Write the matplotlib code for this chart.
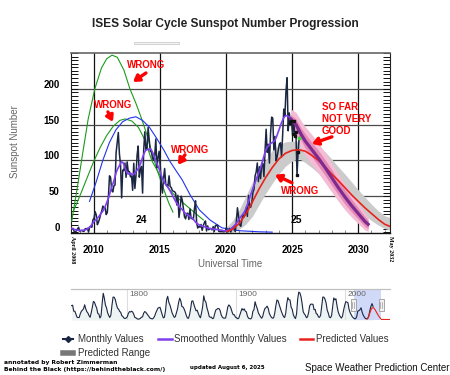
import numpy as np
import matplotlib
matplotlib.use('Agg')
import matplotlib.pyplot as plt
from matplotlib.ticker import MultipleLocator
from matplotlib.transforms import ScaledTranslation
from matplotlib.patches import Rectangle
from matplotlib.lines import Line2D

plt.rcParams['font.family'] = ['Liberation Sans', 'DejaVu Sans']

# ---------------- data ----------------
# Monthly sunspot numbers, Apr 2008 .. Jul 2025
m2008 = [4.6, 4.9, 5.2, 0.8, 0.5, 1.8, 4.5, 6.8, 1.3]
m2009 = [2.2, 2.3, 1.2, 1.3, 4.8, 4.8, 5.3, 0.0, 7.2, 8.0, 6.8, 17.2]
m2010 = [19.6, 28.5, 24.0, 10.4, 13.9, 18.8, 25.2, 29.6, 36.4, 33.6, 34.4, 24.5]
m2011 = [27.3, 48.3, 78.6, 76.1, 58.2, 56.1, 64.5, 65.8, 111.1, 125.7, 139.1, 109.3]
m2012 = [94.4, 47.8, 86.6, 85.9, 96.5, 76.5, 98.1, 84.3, 84.6, 77.2, 78.4, 58.3]
m2013 = [96.1, 60.9, 78.3, 107.3, 120.2, 76.7, 86.2, 91.8, 54.5, 114.4, 140.0, 114.9]
m2014 = [117.0, 146.1, 128.7, 112.5, 112.5, 102.9, 100.2, 106.9, 130.0, 90.0, 103.6, 112.9]
m2015 = [93.0, 66.7, 54.5, 75.3, 88.8, 66.5, 65.8, 64.4, 78.6, 63.6, 62.2, 58.0]
m2016 = [57.0, 56.4, 54.1, 37.9, 51.5, 20.5, 32.4, 50.2, 44.6, 33.4, 21.4, 18.5]
m2017 = [26.1, 26.4, 17.7, 32.3, 18.9, 19.2, 17.8, 32.6, 43.7, 13.2, 5.7, 8.2]
m2018 = [6.8, 10.7, 2.5, 8.9, 13.1, 15.6, 1.6, 8.7, 3.3, 4.9, 4.9, 3.1]
m2019 = [7.7, 0.8, 9.4, 9.1, 9.9, 1.2, 0.9, 0.5, 1.1, 0.4, 0.5, 1.5]
m2020 = [6.2, 0.2, 1.5, 5.2, 0.2, 5.8, 6.1, 7.5, 0.6, 14.4, 34.0, 21.8]
m2021 = [10.4, 8.2, 17.2, 24.5, 21.2, 25.0, 34.3, 22.0, 51.3, 37.4, 34.8, 41.1]
m2022 = [55.3, 59.9, 78.5, 84.1, 96.5, 70.5, 91.4, 74.6, 96.0, 95.5, 77.6, 113.1]
m2023 = [143.6, 111.3, 122.6, 96.4, 137.4, 160.5, 159.1, 114.8, 133.6, 99.4, 105.4, 114.2]
m2024 = [123.0, 124.7, 104.9, 136.5, 171.7, 162.6, 196.6, 215.5, 141.4, 166.4, 152.5, 154.5]
m2025 = [137.0, 154.6, 134.2, 140.4, 79.3, 112.4, 132.0]
monthly = np.array(m2008 + m2009 + m2010 + m2011 + m2012 + m2013 + m2014 + m2015 +
                   m2016 + m2017 + m2018 + m2019 + m2020 + m2021 + m2022 + m2023 +
                   m2024 + m2025)

# Smoothed monthly values, Apr 2008 .. Dec 2024
s2008 = [5.6, 5.0, 4.4, 3.9, 3.5, 3.0, 2.6, 2.3, 2.2]
s2009 = [2.3, 2.5, 2.7, 2.9, 3.2, 3.7, 4.6, 5.8, 7.0, 8.6, 10.6, 12.8]
s2010 = [14.9, 16.4, 17.9, 19.5, 21.2, 23.2, 25.5, 27.5, 29.4, 32.0, 35.4, 39.3]
s2011 = [43.2, 47.4, 52.5, 58.0, 62.9, 67.1, 71.6, 77.5, 83.0, 87.0, 90.0, 93.0]
s2012 = [96.0, 98.0, 97.5, 94.5, 90.0, 86.0, 82.5, 81.0, 81.5, 82.5, 81.0, 80.0]
s2013 = [81.0, 82.5, 84.5, 86.5, 88.5, 91.5, 95.0, 99.5, 104.5, 108.5, 112.0, 114.5]
s2014 = [115.0, 115.5, 116.0, 116.4, 114.5, 111.5, 108.0, 104.0, 99.5, 95.5, 92.0, 88.0]
s2015 = [83.5, 79.0, 75.5, 72.0, 69.0, 66.5, 64.5, 62.5, 60.0, 57.5, 54.5, 51.5]
s2016 = [48.5, 45.5, 43.0, 40.5, 38.0, 36.0, 34.5, 33.0, 31.5, 29.5, 27.5, 26.0]
s2017 = [25.0, 24.0, 23.0, 22.0, 21.0, 19.5, 18.0, 16.0, 14.0, 12.5, 11.5, 10.5]
s2018 = [9.5, 9.0, 8.5, 8.0, 7.5, 7.0, 6.5, 6.0, 5.5, 5.0, 4.8, 4.6]
s2019 = [4.4, 4.2, 4.0, 3.8, 3.6, 3.4, 3.2, 2.9, 2.5, 2.0, 1.8, 1.8]
s2020 = [2.0, 2.3, 2.6, 3.2, 4.5, 6.0, 7.5, 9.0, 10.5, 12.0, 14.5, 17.0]
s2021 = [19.5, 21.5, 23.5, 25.5, 27.5, 30.5, 34.5, 38.5, 43.0, 47.5, 52.0, 56.5]
s2022 = [61.0, 65.5, 69.5, 73.5, 77.5, 81.5, 85.5, 90.0, 95.0, 100.5, 106.0, 111.5]
s2023 = [115.5, 118.5, 120.5, 122.0, 123.5, 124.5, 125.5, 126.5, 128.5, 131.5, 135.5, 140.0]
s2024 = [144.0, 149.0, 153.0, 156.5, 159.5, 161.5, 162.5, 162.5, 161.5, 160.5, 159.5, 158.5]
smoothed = np.array(s2008 + s2009 + s2010 + s2011 + s2012 + s2013 + s2014 + s2015 +
                    s2016 + s2017 + s2018 + s2019 + s2020 + s2021 + s2022 + s2023 + s2024)

# Old cycle-24 predictions (green: 2007 panel, blue: 2009 panel)
gA_years = [2008.35, 2008.8, 2009.2, 2009.6, 2010.1, 2010.6, 2011.0, 2011.4, 2011.8, 2012.3,
            2012.75, 2013.2, 2013.6, 2014.0, 2014.4, 2014.8, 2015.3, 2015.7, 2016.0]
gA_vals = [15, 65, 112, 158, 200, 229, 242, 247, 244, 226, 200, 180, 160, 138, 112, 87, 60, 40, 28]
gB_years = [2008.5, 2009.0, 2009.5, 2010.0, 2010.5, 2011.0, 2011.5, 2012.0, 2012.4, 2012.9,
            2013.4, 2013.9, 2014.4, 2015.0, 2015.5, 2016.0, 2016.7, 2017.4, 2018.3]
gB_vals = [30, 52, 75, 98, 118, 135, 148, 156, 158, 155, 146, 128, 100, 80, 65, 54, 42, 31, 17]
blue_years = [2009.7, 2010.2, 2010.7, 2011.2, 2011.7, 2012.2, 2012.7, 2013.2, 2013.7, 2014.2,
              2014.7, 2015.3, 2015.8, 2016.3, 2016.7, 2017.3, 2018.0, 2018.8, 2019.7, 2021.0,
              2022.5, 2023.5]
blue_vals = [43, 70, 100, 125, 143, 154, 159, 161, 156, 147, 133, 115, 98, 84, 73, 52, 31, 17,
             6, 2, 0.5, 0]

# Cycle-25 panel prediction and range
red_years = [2020.1, 2020.5, 2021.0, 2021.5, 2022.0, 2022.5, 2023.0, 2023.5, 2024.0, 2024.5,
             2025.0, 2025.5, 2026.0, 2026.5, 2027.0, 2027.5, 2028.0, 2028.5, 2029.0, 2029.5,
             2030.0, 2030.5, 2031.0, 2031.5, 2032.0, 2032.4]
red_vals = [1, 4, 12, 25, 42, 60, 76, 90, 102, 110, 114, 115, 113, 107, 100, 91, 81, 72, 62, 52,
            43, 34, 26, 18, 11, 8]
rng_years = [2020.0, 2020.5, 2021.0, 2021.5, 2022.0, 2022.5, 2023.0, 2023.5, 2024.0, 2024.5,
             2025.0, 2025.5, 2026.0, 2026.5, 2027.0, 2027.5, 2028.0, 2028.5, 2029.0, 2029.5,
             2030.0, 2030.5, 2031.0, 2031.5, 2032.0, 2032.4]
rng_upper = [6, 16, 31, 50, 70, 87, 101, 114, 122, 126, 127, 127, 127, 125, 119, 112, 102, 91,
             81, 70, 59, 49, 39, 30, 23, 20]
rng_lower = [0, 0, 4, 11, 22, 38, 54, 68, 81, 92, 99, 103, 97, 90, 82, 73, 65, 56, 47, 39, 31,
             23, 16, 10, 5, 3]

# New experimental prediction (purple with pink ranges)
exp_years = [2024.9, 2025.3, 2025.7, 2026.0, 2026.5, 2027.0, 2027.5, 2028.0, 2028.5, 2029.0,
             2029.5, 2030.0, 2030.5, 2030.75]
exp_vals = np.array([158, 150, 136, 127, 115, 103, 90, 76, 62, 49, 37, 26, 15, 11])
exp_inner = np.array([6, 8, 9, 10, 10, 11, 11, 11, 10, 10, 9, 8, 7, 6])
exp_outer = np.array([14, 17, 19, 20, 21, 21, 21, 20, 19, 18, 16, 14, 12, 10])

# Navigator: yearly sunspot numbers 1749 .. 2025
nav_start = 1749
nav_vals = [134.7, 139.0, 79.5, 79.7, 51.2, 20.3, 16.0, 17.0, 54.0, 79.3, 90.0, 104.8, 143.2,
            102.0, 75.2, 60.7, 34.8, 19.0, 63.0, 116.3, 176.8, 168.0, 136.0, 110.8, 58.0, 51.0,
            11.7, 33.0, 154.2, 257.3, 209.8, 141.3, 113.5, 64.2, 38.0, 17.0, 40.2, 138.2, 220.0,
            218.2, 196.8, 149.8, 111.0, 100.0, 78.2, 68.3, 35.5, 26.7, 10.7, 6.8, 11.3, 24.2,
            56.7, 75.0, 71.8, 79.2, 70.3, 46.8, 16.8, 13.5, 4.2, 0.0, 2.3, 8.3, 20.3, 23.2, 59.0,
            76.3, 68.3, 52.9, 38.5, 24.2, 9.2, 6.3, 2.2, 11.4, 28.2, 59.9, 83.0, 108.5, 115.2,
            117.4, 80.8, 44.3, 13.4, 19.5, 85.8, 192.7, 227.3, 168.7, 143.0, 105.5, 63.3, 40.3,
            18.1, 25.1, 65.8, 102.7, 166.3, 208.3, 182.5, 126.3, 122.0, 102.7, 74.1, 39.0, 12.7,
            8.2, 43.4, 104.4, 178.3, 182.2, 146.6, 112.1, 83.5, 89.2, 57.8, 30.7, 13.9, 62.8,
            123.6, 232.0, 185.3, 169.2, 110.1, 74.5, 28.3, 18.9, 20.7, 5.7, 10.0, 53.7, 90.5,
            99.0, 106.1, 105.8, 86.3, 42.4, 21.8, 11.2, 10.4, 11.8, 59.5, 121.7, 142.0, 130.0,
            106.6, 69.4, 43.8, 44.4, 20.2, 15.7, 4.6, 8.5, 40.8, 70.1, 105.5, 90.1, 102.8, 80.9,
            73.2, 30.9, 9.5, 6.0, 2.4, 16.1, 79.0, 95.0, 173.6, 134.6, 105.7, 62.7, 43.5, 23.7,
            9.7, 27.9, 74.0, 106.5, 114.7, 129.7, 108.2, 59.4, 35.1, 18.6, 9.2, 14.6, 60.2, 132.8,
            190.6, 182.6, 148.0, 113.0, 79.2, 50.8, 27.1, 16.1, 55.3, 154.3, 214.7, 193.0, 190.7,
            118.9, 98.3, 45.0, 20.1, 6.6, 54.2, 200.7, 269.3, 261.7, 225.1, 159.0, 76.4, 53.4,
            39.9, 15.0, 22.0, 66.8, 132.9, 150.2, 149.4, 148.0, 94.4, 97.6, 54.1, 49.2, 22.5,
            18.4, 39.3, 131.0, 220.1, 218.9, 198.9, 162.4, 91.0, 60.5, 20.6, 14.8, 33.9, 123.0,
            211.1, 191.8, 203.3, 133.0, 76.1, 44.9, 25.1, 11.6, 28.9, 88.3, 136.3, 173.9, 170.4,
            163.6, 99.3, 65.3, 45.8, 24.7, 12.6, 4.2, 4.8, 24.9, 80.8, 84.5, 94.0, 113.3, 69.8,
            39.8, 21.7, 7.0, 3.6, 8.8, 29.6, 83.2, 125.5, 154.7, 128.0]
nav_tail_years = [2032.4, 2041]
nav_tail_vals = [0, 0]

x_ticks = [2010, 2015, 2020, 2025, 2030]
y_ticks = [0, 50, 100, 150, 200]

# ---------------- figure ----------------
W, H = 450, 375
fig = plt.figure(figsize=(4.5, 3.75), dpi=100)


def fx(px):
    return px / W


def fy(py):
    return 1 - py / H


ax = fig.add_axes([fx(71), fy(232.5), (390 - 71) / W, (232.5 - 53) / H])
ax.set_xlim(2008.3, 2032.4)
ax.set_ylim(-0.5, 250)

mx = 2008 + 3 / 12 + np.arange(len(monthly)) / 12 + 1 / 24
sx = 2008 + 3 / 12 + np.arange(len(smoothed)) / 12 + 1 / 24

ax.fill_between(rng_years, rng_lower, rng_upper, color='#cbcbcb', lw=0, zorder=2)
ax.fill_between(exp_years, exp_vals - exp_outer, exp_vals + exp_outer, color='#f5bcd6',
                lw=0, zorder=2.5)
ax.fill_between(exp_years, exp_vals - exp_inner, exp_vals + exp_inner, color='#e48ab6',
                lw=0, zorder=2.6)
ax.plot(gA_years, gA_vals, color='#1d9a1d', lw=0.8, zorder=3)
ax.plot(gB_years, gB_vals, color='#1d9a1d', lw=0.8, zorder=3)
ax.plot(blue_years, blue_vals, color='#2233ee', lw=0.8, zorder=3)
ax.plot(mx, monthly, color='#1b2742', lw=1.1, zorder=4)
ax.plot(mx[-9:-1], monthly[-9:-1], ls='none', marker='s', ms=1.6, color='#111111', zorder=8)
ax.plot(mx[-1:], monthly[-1:], ls='none', marker='s', ms=1.8, color='#33dd33', zorder=8)
ax.plot(sx, smoothed, color='#8040f0', lw=1.2, zorder=5)
ax.plot(red_years, red_vals, color='#e8231c', lw=1.2, zorder=6)
ax.plot(exp_years, exp_vals, color='#7e2a8e', lw=2.3, zorder=7)

# grid, ticks
ax.set_xticks(x_ticks)
ax.set_yticks(y_ticks)
ax.xaxis.set_minor_locator(MultipleLocator(1))
ax.yaxis.set_minor_locator(MultipleLocator(5))
for v in x_ticks:
    ax.axvline(v, color='#111111', lw=0.9, zorder=1)
for v in y_ticks[1:]:
    ax.axhline(v, color='#4a4a4a', lw=0.9, zorder=1)
ax.tick_params(axis='y', which='both', direction='in', left=True, right=True, length=5,
               width=0.7, color='#111111', labelsize=7, pad=8)
ax.tick_params(axis='x', which='major', length=0, labelsize=7, pad=9)
ax.tick_params(axis='x', which='minor', direction='in', length=2.2, width=0.6, color='#777777')
for lab in ax.get_xticklabels() + ax.get_yticklabels():
    lab.set_fontweight('bold')
off = ScaledTranslation(0, 0.05, fig.dpi_scale_trans)
for lab in ax.get_yticklabels():
    lab.set_transform(lab.get_transform() + off)
for s in ['left', 'right']:
    ax.spines[s].set_color('#222222')
    ax.spines[s].set_linewidth(0.8)
ax.spines['top'].set_color('#666666')
ax.spines['top'].set_linewidth(1.2)
ax.spines['bottom'].set_color('#111111')
ax.spines['bottom'].set_linewidth(1.0)

# cycle labels
ax.text(2013.63, 17.5, '24', ha='center', va='center', fontsize=7.5, fontweight='bold', zorder=9)
ax.text(2025.34, 17.5, '25', ha='center', va='center', fontsize=7.5, fontweight='bold', zorder=9)

# annotations
red = '#ff0000'
akw = dict(arrowstyle='-|>,head_length=0.35,head_width=0.22', color=red, lw=2.4,
           mutation_scale=10, shrinkA=0, shrinkB=0)
ax.text(2014.0, 233.3, 'WRONG', color=red, fontsize=7, fontweight='bold', ha='center',
        va='center', zorder=10)
ax.annotate('', xy=(2012.98, 209.6), xytext=(2013.96, 222.1), arrowprops=akw, zorder=10)
ax.text(2011.51, 177.6, 'WRONG', color=red, fontsize=7, fontweight='bold', ha='center',
        va='center', zorder=10)
ax.annotate('', xy=(2011.47, 153.9), xytext=(2011.09, 167.8), arrowprops=akw, zorder=10)
ax.text(2017.29, 114.9, 'WRONG', color=red, fontsize=7, fontweight='bold', ha='center',
        va='center', zorder=10)
ax.annotate('', xy=(2016.38, 94.0), xytext=(2016.91, 107.9), arrowprops=akw, zorder=10)
ax.text(2025.63, 57.8, 'WRONG', color=red, fontsize=7, fontweight='bold', ha='center',
        va='center', zorder=10)
ax.annotate('', xy=(2023.71, 80.0), xytext=(2024.99, 68.9), arrowprops=akw, zorder=10)
for i, t in enumerate(['SO FAR', 'NOT VERY', 'GOOD']):
    ax.text(2027.26, 174.8 - i * 16.7, t, color=red, fontsize=7, fontweight='bold',
            ha='left', va='center', zorder=10)
ax.annotate('', xy=(2026.5, 123.3), xytext=(2028.01, 133.0), arrowprops=akw, zorder=10)

# titles / labels
fig.text(fx(225), fy(24), 'ISES Solar Cycle Sunspot Number Progression', ha='center',
         va='center', fontsize=8.6, fontweight='bold', color='#222222')
fig.text(fx(230), fy(264), 'Universal Time', ha='center', va='center', fontsize=7,
         color='#666666')
fig.text(fx(15), fy(142), 'Sunspot Number', ha='center', va='center', fontsize=7,
         color='#666666', rotation=90)
fig.text(fx(72.5), fy(236), 'April 2008', ha='center', va='top', fontsize=4.3,
         fontweight='bold', family='Liberation Serif', rotation=-90)
fig.text(fx(391), fy(236), 'May 2032', ha='center', va='top', fontsize=4.3,
         fontweight='bold', family='Liberation Serif', rotation=-90)
fig.add_artist(Rectangle((fx(134), fy(44)), 45 / W, 2 / H, transform=fig.transFigure,
                         fc='#f4f4f4', ec='#cccccc', lw=0.6))

# navigator
nav = fig.add_axes([fx(71), fy(320), (390 - 71) / W, (320 - 289) / H])
nav.set_xlim(1749, 2041)
nav.set_ylim(-8, 300)
ny = nav_start + np.arange(len(nav_vals)) + 0.5
nav.axvspan(2008.25, 2032.4, color='#c9d3f7', alpha=0.85, lw=0, zorder=0.5)
nav.fill_between(ny, nav_vals, -8, color='#eef3f3', lw=0, zorder=0.4)
nav.plot(ny, nav_vals, color='#1b2742', lw=0.8, zorder=2)
nav.plot(red_years, red_vals, color='#e8231c', lw=0.8, zorder=2)
nav.plot(nav_tail_years, nav_tail_vals, color='#e8231c', lw=0.8, zorder=2)
for yr in [1800, 1900, 2000]:
    nav.axvline(yr, color='#dddddd', lw=0.8, zorder=0.6)
    nav.text(yr + 2, 0.95, str(yr), transform=nav.get_xaxis_transform(), ha='left',
             va='top', fontsize=6, color='#666666', zorder=3)
nav.set_xticks([])
nav.set_yticks([])
for s in ['left', 'right', 'bottom']:
    nav.spines[s].set_visible(False)
nav.spines['top'].set_color('#c0c0c0')
nav.spines['top'].set_linewidth(0.9)
for hx in [350.5, 378.5]:
    fig.add_artist(Rectangle((fx(hx), fy(311)), 5 / W, 12 / H, transform=fig.transFigure,
                             fc='#f2f2f2', ec='#999999', lw=0.6, zorder=5))
    for dx in [1.8, 3.2]:
        fig.add_artist(Line2D([fx(hx + dx)] * 2, [fy(308), fy(302)],
                              transform=fig.transFigure, color='#999999', lw=0.5, zorder=6))

# legend (manual)
def leg_line(x0, x1, y, **kw):
    fig.add_artist(Line2D([fx(x0), fx(x1)], [fy(y), fy(y)], transform=fig.transFigure, **kw))


leg_line(62.7, 72.7, 339, color='#1b2742', lw=1.5)
fig.add_artist(Line2D([fx(67.7)], [fy(339)], transform=fig.transFigure, marker='D', ms=3,
                      color='#1b2742'))
fig.text(fx(78), fy(339), 'Monthly Values', ha='left', va='center', fontsize=7, color='#333333')
leg_line(157.7, 171.7, 339, color='#8040f0', lw=1.8)
fig.text(fx(174), fy(339), 'Smoothed Monthly Values', ha='left', va='center', fontsize=7,
         color='#333333')
leg_line(300, 312.5, 339, color='#e8231c', lw=1.8)
fig.text(fx(316), fy(339), 'Predicted Values', ha='left', va='center', fontsize=7,
         color='#333333')
leg_line(62.7, 72.7, 353, color='#777777', lw=4)
fig.text(fx(78), fy(353), 'Predicted Range', ha='left', va='center', fontsize=7,
         color='#333333')

# footer
fig.text(fx(4), fy(362.3), 'annotated by Robert Zimmerman', ha='left', va='center',
         fontsize=4.3, fontweight='bold', family='DejaVu Sans')
fig.text(fx(4), fy(370), 'Behind the Black (https://behindtheblack.com/)', ha='left',
         va='center', fontsize=4.3, fontweight='bold', family='DejaVu Sans')
fig.text(fx(227), fy(367.7), 'updated August 6, 2025', ha='center', va='center', fontsize=4,
         fontweight='bold', family='DejaVu Sans')
fig.text(fx(305), fy(368.3), 'Space Weather Prediction Center', ha='left', va='center',
         fontsize=7, color='#111111')

fig.savefig('out.png', dpi=100)
